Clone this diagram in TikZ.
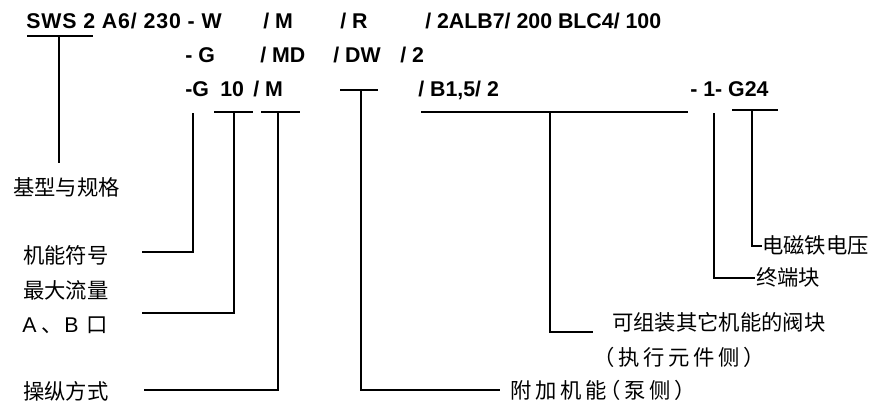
\documentclass[tikz,border=0pt]{standalone}
\usepackage{fontspec}
\setmainfont{Liberation Sans}
\newfontfamily\cjk{Noto Sans CJK SC}
\newfontfamily\cjkwide[LetterSpace=17,RawFeature=+halt]{Noto Sans CJK SC}
\begin{document}
\begin{tikzpicture}[x=0.75pt, y=-0.75pt,
    code/.style={anchor=base west, inner sep=0pt, font=\fontsize{16}{18}\selectfont\bfseries},
    lbl/.style={anchor=west, inner sep=0pt, font=\fontsize{16}{18}\selectfont\cjk},
    lblwide/.style={lbl, font=\fontsize{16}{18}\selectfont\cjkwide},
    leader/.style={line width=0.8pt}]
    \useasboundingbox (0,0) rectangle (888,403);

    % type code, three rows
    \node[code, font=\fontsize{16}{18}\selectfont\bfseries\addfontfeatures{LetterSpace=4}] (sws) at (26,29) {SWS 2 A6/ 230 - W};
    \node[code] (m1) at (263,29) {/ M};
    \node[code] (r) at (340,29) {/ R}; \node[code] (tail) at (425,29) {/ 2ALB7/ 200 BLC4/ 100};
    \node[code] (g2) at (185,63) {- G}; \node[code] (md) at (260,63) {/ MD};
    \node[code] (dw) at (333,63) {/ DW}; \node[code] (two) at (400,63) {/ 2};
    \node[code] (g3) at (185,97) {-G}; \node[code] (ten) at (220,97) {10};
    \node[code] (m3) at (253,97) {/ M}; \node[code] (b15) at (418,97) {/ B1,5/ 2};
    \node[code] (g24) at (690,97) {- 1- G24};

    % labels
    \node[lbl] (lbase) at (13,187) {基型与规格};
    \node[lbl] (lfunc) at (23,255) {机能符号};
    \node[lbl] (lflow) at (23,290) {最大流量};
    \node[lbl] (lport) at (22,325) {{\normalfont A}\hspace{4pt}、\hspace{1pt}{\normalfont B}\hspace{6pt}口};
    \node[lbl] (lop) at (23,391) {操纵方式};
    \node[lblwide] (lextra) at (510,390) {附加机能（泵侧）};
    \node[lbl] (lblock) at (612,322) {可组装其它机能的阀块};
    \node[lblwide] (lside) at (604,357) {（执行元件侧）};
    \node[lbl] (lend) at (756,277) {终端块};
    \node[lbl] (lvolt) at (762,245) {电磁铁电压};

    % underlines and bends
    \coordinate (swsA) at (27,36); \coordinate (swsB) at (93,36);
    \coordinate (swsC) at (59,36); \coordinate (swsD) at (59,163);
    \coordinate (gtop) at (193,113); \coordinate (gend) at (142,252);
    \coordinate (tenA) at (214,112); \coordinate (tenB) at (253,112);
    \coordinate (tenC) at (234,112); \coordinate (tenend) at (142,313);
    \coordinate (mA) at (261,112); \coordinate (mB) at (300,112);
    \coordinate (mC) at (278,112); \coordinate (mend) at (144,390);
    \coordinate (dwA) at (340,90); \coordinate (dwB) at (378,90);
    \coordinate (dwC) at (361,90); \coordinate (dwend) at (500,390);
    \coordinate (bA) at (421,112); \coordinate (bB) at (688,112);
    \coordinate (bC) at (550,112); \coordinate (bend) at (593,332);
    \coordinate (onetop) at (714,113); \coordinate (oneend) at (755,278);
    \coordinate (vA) at (732,110); \coordinate (vB) at (778,110);
    \coordinate (vC) at (752,110); \coordinate (vend) at (762,246);

    % leaders
    \draw[leader] (swsA) -- (swsB) (swsC) -- (swsD);
    \draw[leader] (gtop) |- (gend);
    \draw[leader] (tenA) -- (tenB) (tenC) |- (tenend);
    \draw[leader] (mA) -- (mB) (mC) |- (mend);
    \draw[leader] (dwA) -- (dwB) (dwC) |- (dwend);
    \draw[leader] (bA) -- (bB) (bC) |- (bend);
    \draw[leader] (onetop) |- (oneend);
    \draw[leader] (vA) -- (vB) (vC) |- (vend);

\end{tikzpicture}
\end{document}
